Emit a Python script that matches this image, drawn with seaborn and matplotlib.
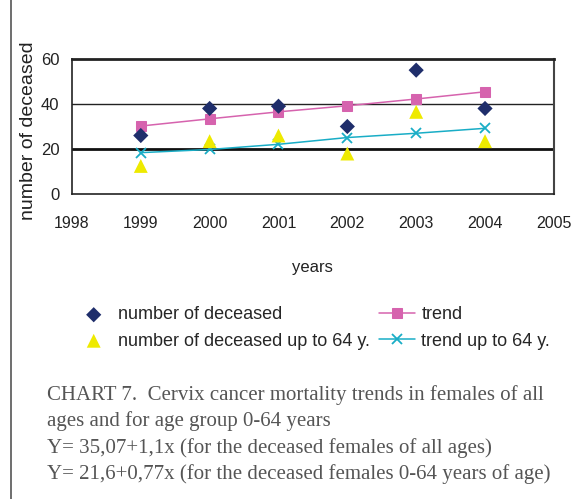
import matplotlib
matplotlib.use("Agg")
import matplotlib.pyplot as plt
import seaborn as sns
from matplotlib.lines import Line2D

years = [1999, 2000, 2001, 2002, 2003, 2004]
deceased = [26, 38, 39, 30, 55, 38]
deceased_64 = [12.5, 23.5, 26, 18, 36.5, 23.5]
trend = [30.2, 33.4, 36.5, 39.2, 42.2, 45.4]
trend_64 = [18.4, 19.8, 22.1, 25.1, 27.0, 29.2]

x_ticks = [1998, 1999, 2000, 2001, 2002, 2003, 2004, 2005]
y_ticks = [0, 20, 40, 60]

caption = ["CHART 7.  Cervix cancer mortality trends in females of all",
           "ages and for age group 0-64 years",
           "Y= 35,07+1,1x (for the deceased females of all ages)",
           "Y= 21,6+0,77x (for the deceased females 0-64 years of age)"]

sns.set_style("white")
plt.rcParams['font.family'] = ['Liberation Sans', 'DejaVu Sans']

fig = plt.figure(figsize=(5.71, 4.99), dpi=100)
ax = fig.add_axes([0.126, 0.611, 0.844, 0.271])

sns.scatterplot(x=years, y=deceased, marker='D', color='#1f2e6b', s=60,
                edgecolor='none', label='number of deceased', ax=ax, zorder=4)
sns.scatterplot(x=years, y=deceased_64, marker='^', color='#eeea00', s=100,
                edgecolor='none', label='number of deceased up to 64 y.', ax=ax, zorder=4)
sns.lineplot(x=years, y=trend, marker='s', color='#d663ae', markersize=7,
             markeredgecolor='#d663ae', lw=1.1, label='trend', ax=ax, zorder=3)
sns.lineplot(x=years, y=trend_64, marker='x', color='#19adc6', markersize=7,
             markeredgecolor='#19adc6', markeredgewidth=1.3, lw=1.1,
             label='trend up to 64 y.', ax=ax, zorder=3)

ax.set_xlim(1998, 2005)
ax.set_ylim(0, 60)
ax.set_xticks(x_ticks)
ax.set_yticks(y_ticks)
ax.set_xticklabels([str(t) for t in x_ticks], fontsize=11.5, color='#222222')
ax.set_yticklabels([str(t) for t in y_ticks], fontsize=12, color='#222222')
ax.tick_params(axis='both', direction='out', length=5, width=1, color='#222222', pad=4)
ax.tick_params(axis='x', pad=11)

ax.axhline(40, color='#222222', lw=1.0, zorder=1)
ax.axhline(20, color='#111111', lw=2.0, zorder=1)
for side in ['left', 'bottom']:
    ax.spines[side].set_color('#222222')
    ax.spines[side].set_linewidth(1.2)
ax.spines['top'].set_color('#222222')
ax.spines['top'].set_linewidth(2.0)
ax.spines['right'].set_color('#444444')
ax.spines['right'].set_linewidth(1.5)

ax.set_ylabel('number of deceased', fontsize=14, color='#222222')
ax.yaxis.set_label_coords(-0.072, 0.47)
ax.set_xlabel('years', fontsize=12, color='#222222')
ax.xaxis.set_label_coords(0.5, -0.49)

handles, labels = ax.get_legend_handles_labels()
ax.legend(handles, labels, ncol=2, loc='center', bbox_to_anchor=(0.5, -0.99),
          frameon=False, fontsize=13, handlelength=2.0, handletextpad=0.35,
          columnspacing=0.5, labelspacing=0.5, borderaxespad=0)

for i, line in enumerate(caption):
    fig.text(0.082, 1 - (395 + 26.5 * i) / 499, line, family='Liberation Serif',
             fontsize=15, color='#555555', va='center', ha='left')

fig.add_artist(Line2D([11 / 571, 11 / 571], [0, 1], color='#555555', lw=1.2,
                      transform=fig.transFigure))

fig.savefig("out.png", dpi=100)
